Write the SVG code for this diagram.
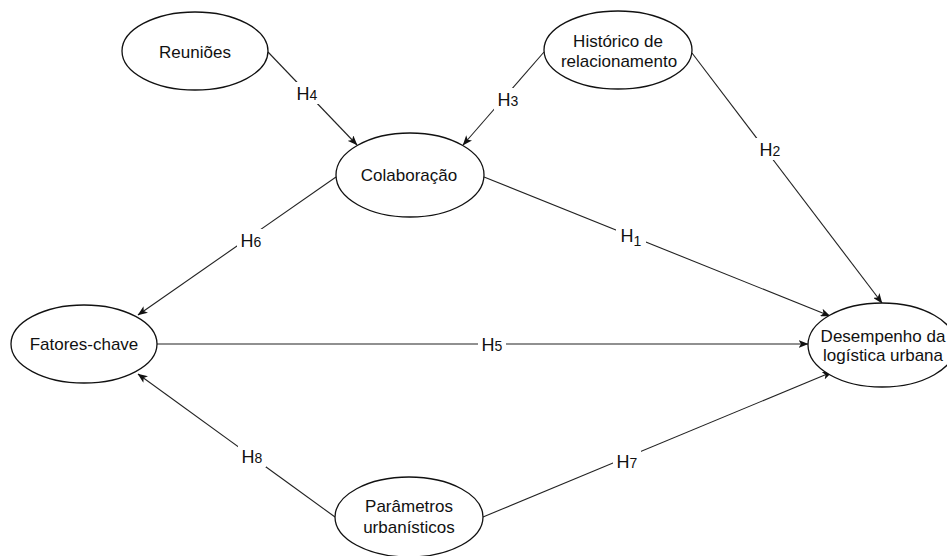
<svg xmlns="http://www.w3.org/2000/svg" width="947" height="556" viewBox="0 0 947 556">
  <style>
    .node ellipse { fill: #ffffff; stroke: #111111; stroke-width: 1.3; }
    .node text { font-family: "Liberation Sans", Arial, sans-serif; font-size: 17px; fill: #111111; text-anchor: middle; }
    .edge { stroke: #222222; stroke-width: 1.1; fill: none; marker-end: url(#arrow); }
    .lbl-bg { fill: #ffffff; }
    .lbl { font-family: "Liberation Sans", Arial, sans-serif; font-size: 18px; fill: #111111; text-anchor: middle; }
    .sub { font-size: 14px; }
  </style>
  <defs>
    <marker id="arrow" viewBox="0 0 10 8" refX="9.5" refY="4" markerWidth="10" markerHeight="8" markerUnits="userSpaceOnUse" orient="auto">
      <path d="M0,0 L10,4 L0,8 L2.5,4 Z" fill="#111111"/>
    </marker>
  </defs>
  <rect width="947" height="556" fill="#ffffff"/>

  <!-- connectors -->
  <g id="connectors">
    <line class="edge" x1="268" y1="52" x2="357" y2="145"/>
    <line class="edge" x1="544" y1="52" x2="463" y2="145"/>
    <line class="edge" x1="692" y1="53" x2="882" y2="303"/>
    <line class="edge" x1="484" y1="177" x2="830" y2="316"/>
    <line class="edge" x1="336" y1="177" x2="138" y2="315"/>
    <line class="edge" x1="157" y1="344" x2="808" y2="344"/>
    <line class="edge" x1="335" y1="517" x2="138" y2="374"/>
    <line class="edge" x1="483" y1="517" x2="832" y2="372"/>

    <!-- hypothesis labels -->
    <rect class="lbl-bg" x="293" y="82" width="28" height="22"/>
    <text class="lbl" x="307" y="100">H<tspan class="sub">4</tspan></text>
    <rect class="lbl-bg" x="494" y="88" width="28" height="22"/>
    <text class="lbl" x="508" y="106">H<tspan class="sub">3</tspan></text>
    <rect class="lbl-bg" x="756" y="138" width="28" height="22"/>
    <text class="lbl" x="770" y="156">H<tspan class="sub">2</tspan></text>
    <rect class="lbl-bg" x="616" y="225" width="30" height="25"/>
    <text class="lbl" x="631" y="242">H<tspan class="sub" dy="4">1</tspan></text>
    <rect class="lbl-bg" x="237" y="229" width="28" height="22"/>
    <text class="lbl" x="251" y="247">H<tspan class="sub">6</tspan></text>
    <rect class="lbl-bg" x="478" y="333" width="28" height="22"/>
    <text class="lbl" x="492" y="351">H<tspan class="sub">5</tspan></text>
    <rect class="lbl-bg" x="238" y="445" width="28" height="22"/>
    <text class="lbl" x="252" y="463">H<tspan class="sub">8</tspan></text>
    <rect class="lbl-bg" x="613" y="450" width="28" height="22"/>
    <text class="lbl" x="627" y="468">H<tspan class="sub">7</tspan></text>
  </g>

  <!-- nodes -->
  <g id="reunioes" class="node">
    <ellipse cx="195" cy="51" rx="73" ry="39"/>
    <text x="195" y="58">Reuniões</text>
  </g>
  <g id="historico" class="node">
    <ellipse cx="618" cy="50" rx="74" ry="39"/>
    <text x="618" y="47">Histórico de</text>
    <text x="619" y="67">relacionamento</text>
  </g>
  <g id="colaboracao" class="node">
    <ellipse cx="410" cy="175" rx="74" ry="42"/>
    <text x="409" y="181">Colaboração</text>
  </g>
  <g id="fatores" class="node">
    <ellipse cx="84" cy="344" rx="73" ry="39"/>
    <text x="84" y="350">Fatores-chave</text>
  </g>
  <g id="desempenho" class="node">
    <ellipse cx="882" cy="345" rx="74" ry="42"/>
    <text x="883" y="342">Desempenho da</text>
    <text x="883" y="361">logística urbana</text>
  </g>
  <g id="parametros" class="node">
    <ellipse cx="409" cy="517" rx="74" ry="40"/>
    <text x="409" y="512">Parâmetros</text>
    <text x="409" y="533">urbanísticos</text>
  </g>
</svg>
